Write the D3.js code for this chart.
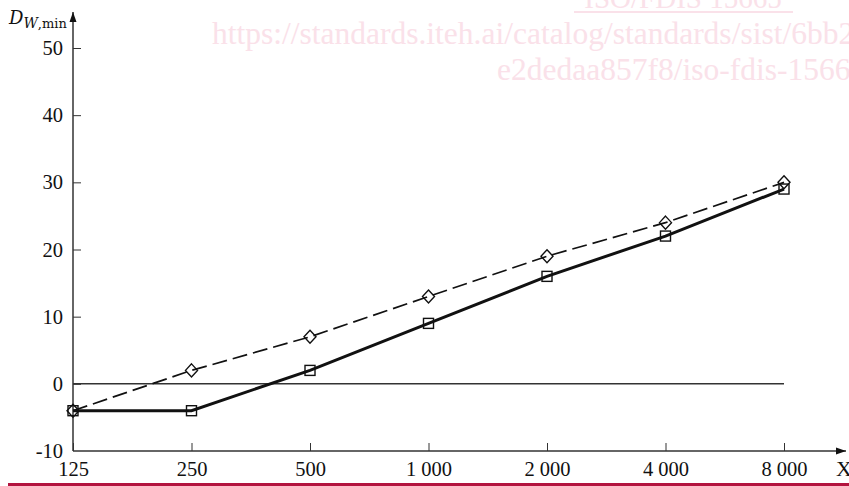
<!DOCTYPE html>
<html>
<head>
<meta charset="utf-8">
<script src="https://cdn.jsdelivr.net/npm/d3@7"></script>
<style>
  body { margin: 0; background: #fff; }
  svg { display: block; }
</style>
</head>
<body>
<div id="chart"></div>
<script>
const freqs = ["125", "250", "500", "1 000", "2 000", "4 000", "8 000"];
const diamondValues = [-4, 2, 7, 13, 19, 24, 30];
const squareValues = [-4, -4, 2, 9, 16, 22, 29];
const yTicks = [-10, 0, 10, 20, 30, 40, 50];

const width = 849;
const height = 486;
const labelFont = "'Liberation Serif', serif";

const svg = d3.select("#chart")
    .append("svg")
    .attr("width", width)
    .attr("height", height);

// watermark
const wm = svg.append("g").attr("fill", "#fae1e9")
    .style("font-family", "'Liberation Serif', serif");
wm.append("text").attr("x", 683).attr("y", 8).attr("text-anchor", "middle")
    .style("font-size", "29px").text("ISO/FDIS 15665");
wm.append("rect").attr("x", 574).attr("y", 11).attr("width", 219).attr("height", 2);
wm.append("text").attr("x", 212).attr("y", 44).style("font-size", "31.5px")
    .text("https://standards.iteh.ai/catalog/standards/sist/6bb2");
wm.append("text").attr("x", 497).attr("y", 80).style("font-size", "31.5px")
    .text("e2dedaa857f8/iso-fdis-15665");

const x = d3.scalePoint().domain(freqs).range([73, 784]);
const y = d3.scaleLinear().domain([-10, 50]).range([451, 48]);

// zero line
svg.append("line")
    .attr("x1", x(freqs[0])).attr("x2", x(freqs[freqs.length - 1]))
    .attr("y1", y(0)).attr("y2", y(0))
    .attr("stroke", "#333").attr("stroke-width", 1.5);

// axes
const xAxis = svg.append("g")
    .attr("transform", `translate(0,${y(-10)})`)
    .call(d3.axisBottom(x).tickSize(-8).tickPadding(10));
xAxis.select(".domain").remove();
xAxis.selectAll("line").attr("stroke", "#333");
xAxis.selectAll("text").attr("fill", "#111")
    .style("font-family", labelFont).style("font-size", "20.5px");

const yAxis = svg.append("g")
    .attr("transform", `translate(${x(freqs[0])},0)`)
    .call(d3.axisLeft(y).tickValues(yTicks).tickSize(-8).tickPadding(10).tickFormat(d => String(d)));
yAxis.select(".domain").remove();
yAxis.selectAll("line").attr("stroke", "#333");
yAxis.selectAll("text").attr("fill", "#111")
    .style("font-family", labelFont).style("font-size", "20.5px");
yAxis.selectAll(".tick").filter(d => d === -10).select("line").remove();

// axis lines with arrows
svg.append("defs").append("marker")
    .attr("id", "arrow")
    .attr("viewBox", "0 0 10 10")
    .attr("refX", 10).attr("refY", 5)
    .attr("markerWidth", 10).attr("markerHeight", 10)
    .attr("markerUnits", "userSpaceOnUse")
    .attr("orient", "auto")
    .append("path").attr("d", "M0,1.5L10,5L0,8.5Z").attr("fill", "#111");

svg.append("line")
    .attr("x1", 73).attr("y1", y(-10)).attr("x2", 846).attr("y2", y(-10))
    .attr("stroke", "#333").attr("stroke-width", 1.5).attr("marker-end", "url(#arrow)");
svg.append("line")
    .attr("x1", 73).attr("y1", y(-10)).attr("x2", 73).attr("y2", 12)
    .attr("stroke", "#333").attr("stroke-width", 1.5).attr("marker-end", "url(#arrow)");

// axis titles
const yt = svg.append("text").attr("x", 9).attr("y", 24).attr("fill", "#111")
    .style("font-family", "'DejaVu Serif', serif").style("font-size", "18px");
yt.append("tspan").style("font-style", "italic").text("D");
yt.append("tspan").attr("dy", 4).style("font-size", "14px").style("font-style", "italic").text("W");
yt.append("tspan").style("font-size", "13px").text(",min");

svg.append("text").attr("x", 836).attr("y", 476).attr("fill", "#111")
    .style("font-family", labelFont).style("font-size", "22px").text("X");

// series
const line = d3.line().x((d, i) => x(freqs[i])).y(d => y(d));

svg.append("path").datum(diamondValues)
    .attr("d", line).attr("fill", "none").attr("stroke", "#111")
    .attr("stroke-width", 1.7).attr("stroke-dasharray", "15,6");

svg.append("path").datum(squareValues)
    .attr("d", line).attr("fill", "none").attr("stroke", "#111")
    .attr("stroke-width", 3);

svg.selectAll(".diamond").data(diamondValues).enter()
    .append("path").attr("class", "diamond")
    .attr("transform", (d, i) => `translate(${x(freqs[i])},${y(d)})`)
    .attr("d", "M0,-6.5L6,0L0,6.5L-6,0Z")
    .attr("fill", "none").attr("stroke", "#111").attr("stroke-width", 1.4);

svg.selectAll(".square").data(squareValues).enter()
    .append("rect").attr("class", "square")
    .attr("x", (d, i) => x(freqs[i]) - 5).attr("y", d => y(d) - 5)
    .attr("width", 10).attr("height", 10)
    .attr("fill", "none").attr("stroke", "#111").attr("stroke-width", 1.4);

// bottom rule
svg.append("rect").attr("x", 8).attr("y", 483).attr("width", 841).attr("height", 3).attr("fill", "#b3143f");
</script>
</body>
</html>
